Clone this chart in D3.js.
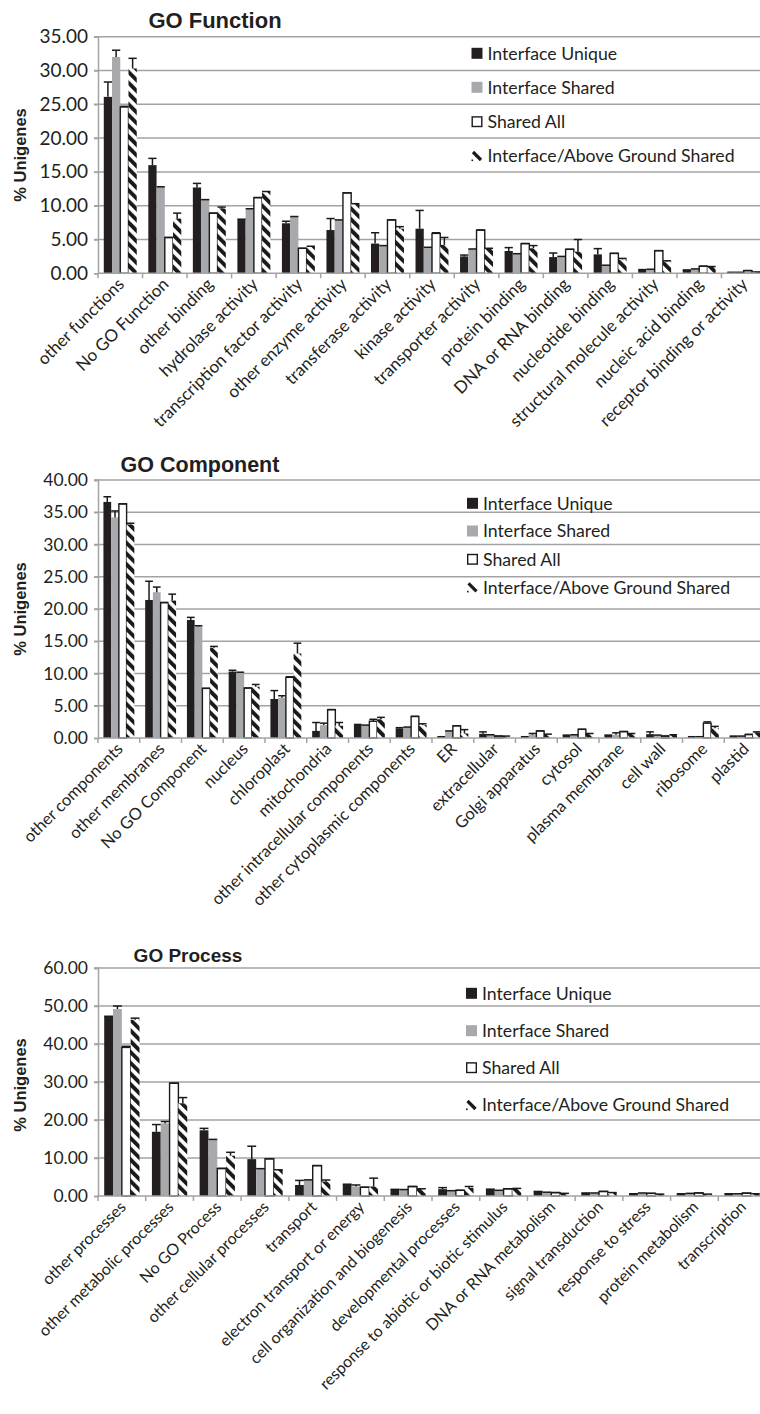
<!DOCTYPE html>
<html><head><meta charset="utf-8">
<script src="https://cdn.jsdelivr.net/npm/d3@7"></script>
<style>
body{margin:0;background:#fff;}
svg{display:block;}
</style></head>
<body>
<script>
const seriesNames = ["Interface Unique","Interface Shared","Shared All","Interface/Above Ground Shared"];

const funcCats = ["other functions","No GO Function","other binding","hydrolase activity","transcription factor activity","other enzyme activity","transferase activity","kinase activity","transporter activity","protein binding","DNA or RNA binding","nucleotide binding","structural molecule activity","nucleic acid binding","receptor binding or activity"];
const funcUnique    = [26.1,16.0,12.7,8.0,7.4,6.4,4.4,6.6,2.5,3.3,2.4,2.8,0.5,0.5,0.15];
const funcUniqueErr = [2.2,1.0,0.6,0,0.3,1.7,1.6,2.7,0.2,0.5,0.6,0.85,0.05,0,0];
const funcShared    = [32.0,12.8,10.9,9.5,8.4,7.9,4.1,3.85,3.6,2.9,2.5,1.2,0.6,0.65,0.15];
const funcSharedErr = [1.0,0,0,0.05,0,0,0,0,0,0,0,0,0,0,0];
const funcAll       = [24.6,5.3,8.9,11.2,3.7,11.9,7.9,5.9,6.4,4.4,3.55,2.95,3.35,1.05,0.4];
const funcAllErr    = [0.1,0,0,0,0,0,0,0.1,0,0,0,0,0,0,0];
const funcAbove     = [30.3,8.1,9.6,12.1,4.0,10.3,6.6,4.2,3.7,3.7,3.2,2.05,1.7,1.0,0.2];
const funcAboveErr  = [1.5,0.8,0.2,0,0,0,0.3,1.1,0,0.4,1.8,0.15,0.15,0,0];
const funcTicks = [0,5,10,15,20,25,30,35];

const compCats = ["other components","other membranes","No GO Component","nucleus","chloroplast","mitochondria","other intracellular components","other cytoplasmic components","ER","extracellular","Golgi apparatus","cytosol","plasma membrane","cell wall","ribosome","plastid"];
const compUnique    = [36.6,21.4,18.3,10.3,6.05,1.1,2.1,1.5,0.2,0.65,0.2,0.45,0.45,0.6,0.2,0.3];
const compUniqueErr = [0.8,2.9,0.4,0.2,1.3,1.3,0,0.1,0,0.3,0,0,0,0.35,0,0];
const compShared    = [34.2,22.6,17.3,10.2,6.25,2.0,2.0,1.7,1.1,0.5,0.5,0.5,0.5,0.45,0.2,0.3];
const compSharedErr = [1.0,0.8,0.1,0,0.3,0.3,0,0,0,0,0.2,0,0.3,0,0,0];
const compAll       = [36.3,21.0,7.7,7.75,9.4,4.4,2.6,3.35,1.9,0.3,1.1,1.35,1.0,0.3,2.3,0.55];
const compAllErr    = [0,0,0,0,0.1,0,0.3,0,0,0,0,0,0,0,0.2,0];
const compAbove     = [33.1,21.3,14.0,7.95,13.1,1.9,2.9,2.0,0.7,0.3,0.6,0.7,0.7,0.5,1.5,0.85];
const compAboveErr  = [0.2,1.0,0.2,0.35,1.6,0.5,0.3,0.2,0.6,0,0,0,0,0,0.3,0.1];
const compTicks = [0,5,10,15,20,25,30,35,40];

const procCats = ["other processes","other metabolic processes","No GO Process","other cellular processes","transport","electron transport or energy","cell organization and biogenesis","developmental processes","response to abiotic or biotic stimulus","DNA or RNA metabolism","signal transduction","response to stress","protein metabolism","transcription"];
const procUnique    = [47.3,16.9,17.3,9.7,2.9,3.1,1.75,1.8,1.8,1.2,0.8,0.6,0.6,0.6];
const procUniqueErr = [0,1.9,0.5,3.4,1.2,0,0,0.4,0,0,0,0,0,0];
const procShared    = [49.2,19.1,14.9,7.2,4.25,2.5,1.7,1.4,1.5,1.0,0.8,0.8,0.7,0.6];
const procSharedErr = [0.8,0.5,0,0,0,0.4,0,0,0,0,0,0,0,0];
const procAll       = [39.1,29.7,7.2,9.8,8.0,2.3,2.5,1.5,1.9,0.9,1.2,0.7,0.8,0.75];
const procAllErr    = [0.3,0,0.1,0,0,0,0,0,0,0,0,0,0,0];
const procAbove     = [46.4,24.4,10.6,6.9,3.8,2.5,1.9,2.1,2.0,0.7,0.9,0.5,0.5,0.6];
const procAboveErr  = [0.4,1.5,0.9,0,0.4,2.2,0,0.4,0,0,0,0,0,0];
const procTicks = [0,10,20,30,40,50,60];

const W = 760, H = 1414;
const svg = d3.select("body").append("svg").attr("width", W).attr("height", H);
svg.append("rect").attr("width", W).attr("height", H).attr("fill", "#fff");

const defs = svg.append("defs");
const pat = defs.append("pattern").attr("id","hatch").attr("patternUnits","userSpaceOnUse")
  .attr("width",7.6).attr("height",7.6).attr("patternTransform","rotate(-45)");
pat.append("rect").attr("width",7.6).attr("height",7.6).attr("fill","#fff");
pat.append("rect").attr("width",3.9).attr("height",7.6).attr("fill","#1a1a1a");

const fills = ["#231f20","#a7a9ac","#fff","url(#hatch)"];
const labelFont = "Lato, 'Open Sans', sans-serif";

const panels = [
  {title:"GO Function", titleX:215, titleY:28, titleSize:22, top:36.7, bottom:273.3, ticks:funcTicks, tickSize:19, labSize:17,
   cats:funcCats, vals:[funcUnique,funcShared,funcAll,funcAbove], errs:[funcUniqueErr,funcSharedErr,funcAllErr,funcAboveErr],
   ylabY:155, legX:471.5, legY:[53.3,87.3,121.7,156]},
  {title:"GO Component", titleX:200, titleY:472, titleSize:21.5, top:480, bottom:738, ticks:compTicks, tickSize:17.5, labSize:16.5,
   cats:compCats, vals:[compUnique,compShared,compAll,compAbove], errs:[compUniqueErr,compSharedErr,compAllErr,compAboveErr],
   ylabY:609, legX:467, legY:[503.3,531,559.3,587.3]},
  {title:"GO Process", titleX:188, titleY:962, titleSize:19, top:968, bottom:1196, ticks:procTicks, tickSize:17.5, labSize:16,
   cats:procCats, vals:[procUnique,procShared,procAll,procAbove], errs:[procUniqueErr,procSharedErr,procAllErr,procAboveErr],
   ylabY:1085, legX:466, legY:[993.3,1030.7,1067.7,1105]}
];

const left = 98, right = 766;

panels.forEach(p => {
  const g = svg.append("g");
  const y = d3.scaleLinear().domain([0, d3.max(p.ticks)]).range([p.bottom, p.top]);
  const x = d3.scaleBand().domain(p.cats).range([left, right]).padding(0);
  const bw = x.bandwidth() * 0.185;

  g.selectAll(".grid").data(p.ticks.filter(t => t > 0)).join("line")
    .attr("x1", left - 4).attr("x2", right).attr("y1", d => y(d)).attr("y2", d => y(d))
    .attr("stroke", "#a3a3a3").attr("stroke-width", 1.5);

  const yAxis = d3.axisLeft(y).tickValues(p.ticks).tickFormat(d3.format(".2f")).tickSize(4).tickPadding(6);
  const ya = g.append("g").attr("transform", `translate(${left},0)`).call(yAxis);
  ya.select(".domain").attr("stroke", "#a3a3a3").attr("stroke-width", 1.5);
  ya.selectAll(".tick line").attr("stroke", "#a3a3a3").attr("stroke-width", 1.5);
  ya.selectAll(".tick text").attr("font-family", labelFont).attr("font-size", p.tickSize).attr("fill", "#231f20");

  p.vals.forEach((vals, si) => {
    g.append("g").selectAll("rect").data(p.cats).join("rect")
      .attr("x", (d) => x(d) + x.bandwidth()/2 + (si - 2) * bw)
      .attr("width", bw)
      .attr("y", (d, i) => y(vals[i]))
      .attr("height", (d, i) => p.bottom - y(vals[i]))
      .attr("fill", fills[si])
      .attr("stroke", si === 2 ? "#1a1a1a" : "none")
      .attr("stroke-width", si === 2 ? 1.4 : 0);
  });

  p.vals.forEach((vals, si) => {
    const errs = p.errs[si];
    const eg = g.append("g").attr("stroke", "#1a1a1a").attr("stroke-width", 1.5);
    p.cats.forEach((c, i) => {
      const cx = x(c) + x.bandwidth()/2 + (si - 1.5) * bw;
      const y0 = y(vals[i]), y1 = y(vals[i] + errs[i]);
      if (errs[i] > 0) eg.append("line").attr("x1", cx).attr("x2", cx).attr("y1", y0).attr("y2", y1);
      eg.append("line").attr("x1", cx - bw/2).attr("x2", cx + bw/2).attr("y1", y1).attr("y2", y1);
    });
  });

  g.append("line").attr("x1", left).attr("x2", right).attr("y1", p.bottom).attr("y2", p.bottom)
    .attr("stroke", "#a3a3a3").attr("stroke-width", 1.5);
  g.selectAll(".xt").data(p.cats.concat([null])).join("line")
    .attr("x1", (d, i) => left + i * x.bandwidth()).attr("x2", (d, i) => left + i * x.bandwidth())
    .attr("y1", p.bottom).attr("y2", p.bottom + 5)
    .attr("stroke", "#a3a3a3").attr("stroke-width", 1.5);

  g.selectAll(".xl").data(p.cats).join("text")
    .attr("transform", d => `translate(${x(d) + x.bandwidth()/2 + 5},${p.bottom + 12}) rotate(-45)`)
    .attr("text-anchor", "end")
    .attr("font-family", labelFont).attr("font-size", p.labSize).attr("fill", "#231f20")
    .text(d => d);

  g.append("text").attr("x", p.titleX).attr("y", p.titleY).attr("text-anchor", "middle")
    .attr("font-family", "'Liberation Sans', Arial, sans-serif").attr("font-weight", "bold")
    .attr("font-size", p.titleSize).attr("fill", "#231f20").text(p.title);

  g.append("text").attr("transform", `translate(26,${p.ylabY}) rotate(-90)`).attr("text-anchor", "middle")
    .attr("font-family", "'Liberation Sans', Arial, sans-serif").attr("font-weight", "bold")
    .attr("font-size", 16.5).attr("fill", "#231f20").text("% Unigenes");

  seriesNames.forEach((name, si) => {
    const ly = p.legY[si];
    const sx = p.legX, sz = 11;
    if (si === 0) g.append("rect").attr("x", sx).attr("y", ly - sz/2).attr("width", sz).attr("height", sz).attr("fill", fills[0]);
    if (si === 1) g.append("rect").attr("x", sx).attr("y", ly - sz/2).attr("width", sz).attr("height", sz).attr("fill", fills[1]);
    if (si === 2) g.append("rect").attr("x", sx + 0.7).attr("y", ly - sz/2 + 0.7).attr("width", sz - 1.4).attr("height", sz - 1.4)
      .attr("fill", "#fff").attr("stroke", "#1a1a1a").attr("stroke-width", 1.4);
    if (si === 3) {
      g.append("line").attr("x1", sx + 1.5).attr("y1", ly - sz/2 + 1.5).attr("x2", sx + sz - 1.5).attr("y2", ly + sz/2 - 1.5)
        .attr("stroke", "#1a1a1a").attr("stroke-width", 3.2);
      g.append("rect").attr("x", sx).attr("y", ly + sz/2 - 2).attr("width", 1.6).attr("height", 1.6).attr("fill", "#1a1a1a");
    }
    g.append("text").attr("x", sx + sz + 5).attr("y", ly).attr("dy", "0.36em")
      .attr("font-family", labelFont).attr("font-size", 17.7).attr("fill", "#231f20").text(name);
  });
});
</script>
</body></html>
